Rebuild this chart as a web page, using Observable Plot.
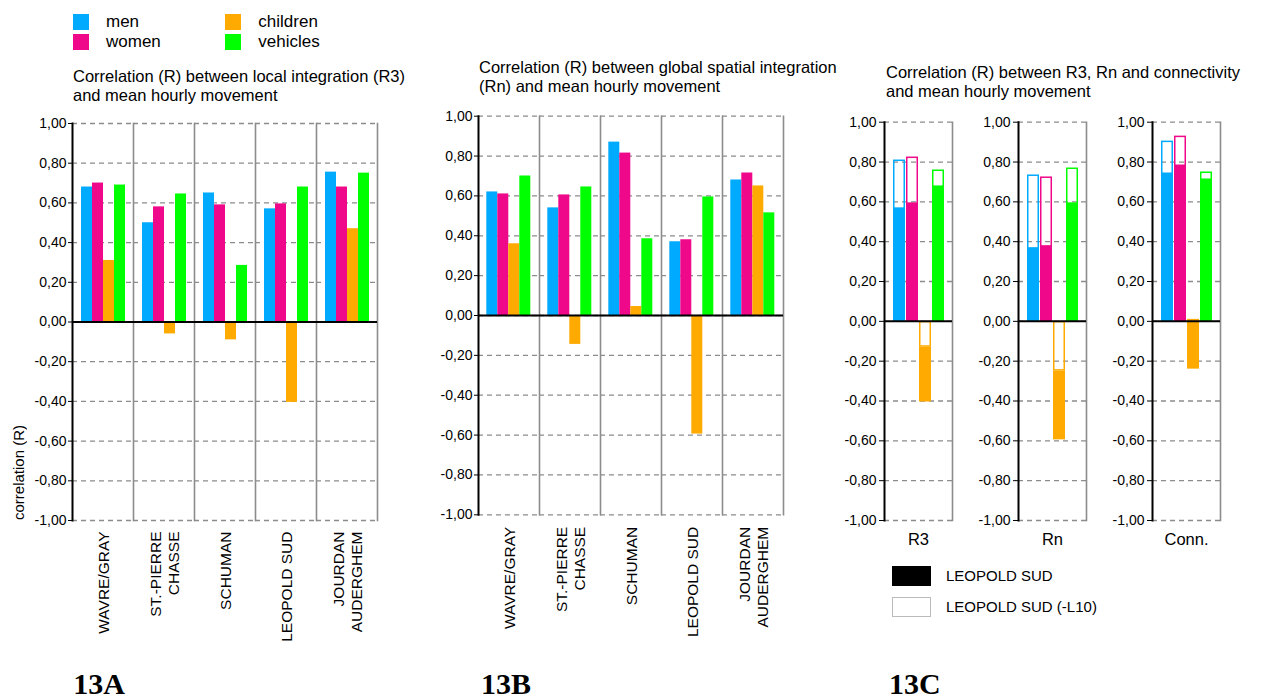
<!DOCTYPE html>
<html><head><meta charset="utf-8">
<script src="https://cdn.jsdelivr.net/npm/d3@7"></script>
<script src="https://cdn.jsdelivr.net/npm/@observablehq/plot@0.6"></script>
<style>
body{margin:0;background:#fff;font-family:"Liberation Sans",Arial,sans-serif;color:#000;}
#root{position:relative;width:1266px;height:699px;overflow:hidden;background:#fff;}
.abs{position:absolute;}
.title{font-size:16.5px;line-height:19px;white-space:nowrap;}
.leg{font-size:17px;line-height:20px;white-space:nowrap;}
.sw{width:16px;height:16px;}
.fig{font-family:"Liberation Serif","Times New Roman",serif;font-weight:bold;font-size:30px;line-height:30px;}
.cleg{font-size:15px;line-height:18px;white-space:nowrap;}
svg{background:transparent !important;}
svg [aria-label="y-axis tick label"], svg [aria-label="y-axis tick label"] text{font-size:14px;}
svg.grp [aria-label="fx-axis tick label"], svg.grp [aria-label="fx-axis tick label"] text{font-size:15.5px;}
svg.cpanel [aria-label="fx-axis tick label"], svg.cpanel [aria-label="fx-axis tick label"] text{font-size:16.5px;}
</style></head><body><div id="root"></div>
<script>
// ---- data ----
const series = ["men", "women", "children", "vehicles"];
const colors = ["#00AAFF", "#F0088A", "#FFAA00", "#00FF00"];
const locations = ["WAVRE/GRAY", "ST.-PIERRE\nCHASSE", "SCHUMAN", "LEOPOLD SUD", "JOURDAN\nAUDERGHEM"];
const yTicks = [-1, -0.8, -0.6, -0.4, -0.2, 0, 0.2, 0.4, 0.6, 0.8, 1];

// 13A: local integration (R3)
const aMen      = [0.68, 0.50, 0.65, 0.57, 0.755];
const aWomen    = [0.70, 0.58, 0.59, 0.595, 0.68];
const aChildren = [0.31, -0.06, -0.09, -0.405, 0.47];
const aVehicles = [0.69, 0.645, 0.285, 0.68, 0.75];

// 13B: global integration (Rn)
const bMen      = [0.62, 0.54, 0.87, 0.37, 0.68];
const bWomen    = [0.61, 0.605, 0.815, 0.38, 0.715];
const bChildren = [0.36, -0.145, 0.045, -0.595, 0.65];
const bVehicles = [0.70, 0.645, 0.385, 0.595, 0.515];

// 13C: LEOPOLD SUD (filled) and LEOPOLD SUD (-L10) (outline)
const measures = ["R3", "Rn", "Conn."];
const cMen         = [0.57, 0.37, 0.745];
const cWomen       = [0.595, 0.38, 0.785];
const cChildren    = [-0.405, -0.595, -0.24];
const cVehicles    = [0.68, 0.595, 0.715];
const cMenL10      = [0.81, 0.735, 0.905];
const cWomenL10    = [0.825, 0.725, 0.93];
const cChildrenL10 = [-0.13, -0.25, 0.01];
const cVehiclesL10 = [0.76, 0.77, 0.75];

const titleA = ["Correlation (R) between local integration (R3)", "and mean hourly movement"];
const titleB = ["Correlation (R) between global spatial integration", "(Rn) and mean hourly movement"];
const titleC = ["Correlation (R) between R3, Rn and connectivity", "and mean hourly movement"];
const cLegend = ["LEOPOLD SUD", "LEOPOLD SUD (-L10)"];
const figLabels = ["13A", "13B", "13C"];
const yLabel = "correlation (R)";

// ---- helpers ----
const root = document.getElementById("root");
const fmt = d => d.toFixed(2).replace(".", ",").replace("\u2212", "-");
function place(node, left, top, cls) {
  if (cls) node.classList.add(cls);
  const w = document.createElement("div");
  w.className = "abs"; w.style.left = left + "px"; w.style.top = top + "px";
  w.appendChild(node); root.appendChild(w); return w;
}
function textDiv(cls, html, left, top) {
  const d = document.createElement("div");
  d.className = "abs " + cls; d.style.left = left + "px"; d.style.top = top + "px";
  d.innerHTML = html; root.appendChild(d); return d;
}
function rowsFrom(arrs) {
  const rows = [];
  locations.forEach((loc, i) => series.forEach((s, j) => rows.push({loc, series: s, value: arrs[j][i]})));
  return rows;
}

function groupedChart(rows, m) {
  return Plot.plot({
    width: m.width, height: 560,
    marginLeft: m.mL, marginRight: m.mR, marginTop: m.mT, marginBottom: m.mB,
    style: {background: "transparent", fontFamily: "Liberation Sans, Arial, sans-serif", color: "black", fontSize: "14px"},
    fx: {domain: locations, padding: 0, label: null},
    x: {domain: series, paddingInner: 0.03, paddingOuter: 0.7, axis: null},
    y: {domain: [-1, 1], label: null},
    color: {domain: series, range: colors},
    marks: [
      Plot.gridY(yTicks, {stroke: "#8c8c8c", strokeOpacity: 1, strokeWidth: 1.3, strokeDasharray: "5,4"}),
      Plot.frame({anchor: "right", stroke: "#8c8c8c", strokeWidth: 1.6}),
      Plot.barY(rows, {fx: "loc", x: "series", y: "value", fill: "series"}),
      Plot.ruleY([0], {stroke: "black", strokeWidth: 2}),
      Plot.frame({anchor: "left", facetAnchor: "left", stroke: "black", strokeWidth: 2}),
      Plot.axisY(yTicks, {tickFormat: fmt, tickSize: 4, tickPadding: 2, fontSize: 14, label: null}),
      Plot.axisFx({anchor: "bottom", tickRotate: -90, tickSize: 0, tickPadding: m.pad, fontSize: 15.5, lineHeight: 1.15, label: null})
    ]
  });
}

// ---- legend ----
const legPos = [[72.7, 14], [72.7, 34], [225, 14], [225, 34]];
series.forEach((s, j) => {
  const sw = document.createElement("div");
  sw.className = "abs sw"; sw.style.background = colors[j];
  sw.style.left = legPos[j][0] + "px"; sw.style.top = legPos[j][1] + "px";
  root.appendChild(sw);
  textDiv("leg", s, legPos[j][0] + 33.3, legPos[j][1] - 1.6);
});

// ---- titles ----
textDiv("title", titleA.join("<br>"), 73, 66.5);
textDiv("title", titleB.join("<br>"), 479, 57.5);
textDiv("title", titleC.join("<br>"), 886, 63);

// ---- 13A ----
place(groupedChart(rowsFrom([aMen, aWomen, aChildren, aVehicles]),
  {width: 420, mL: 72, mR: 43, mT: 23, mB: 140, pad: 11}), 0, 100, "grp");
// y label
const yl = document.createElement("div");
yl.className = "abs"; yl.textContent = yLabel;
Object.assign(yl.style, {left: "9.5px", bottom: (699 - 520) + "px", fontSize: "15px", lineHeight: "17px",
  writingMode: "vertical-rl", transform: "rotate(180deg)", whiteSpace: "nowrap"});
root.appendChild(yl);

// ---- 13B ----
place(groupedChart(rowsFrom([bMen, bWomen, bChildren, bVehicles]),
  {width: 400, mL: 47.7, mR: 47, mT: 15.7, mB: 145.7, pad: 12}), 430, 100, "grp");

// ---- 13C ----
const cFilled = [cMen, cWomen, cChildren, cVehicles];
const cOutline = [cMenL10, cWomenL10, cChildrenL10, cVehiclesL10];
const cAxisX = [884, 1018.3, 1151.7];
measures.forEach((meas, i) => {
  const rows = series.map((s, j) => {
    const f = cFilled[j][i], o = cOutline[j][i];
    const base = (Math.sign(f) === Math.sign(o) && Math.abs(o) < Math.abs(f)) ? o : 0;
    return {m: meas, series: s, filled: f, outline: o, base};
  });
  const chart = Plot.plot({
    width: 130, height: 560,
    marginLeft: 50, marginRight: 11.3, marginTop: 21.7, marginBottom: 140,
    style: {background: "transparent", fontFamily: "Liberation Sans, Arial, sans-serif", color: "black", fontSize: "14px"},
    fx: {domain: [meas], padding: 0, label: null},
    x: {domain: series, paddingInner: 0.1, paddingOuter: 0.6, axis: null},
    y: {domain: [-1, 1], label: null},
    color: {domain: series, range: colors},
    marks: [
      Plot.gridY(yTicks, {stroke: "#8c8c8c", strokeOpacity: 1, strokeWidth: 1.3, strokeDasharray: "5,4"}),
      Plot.frame({anchor: "right", stroke: "#8c8c8c", strokeWidth: 1.6}),
      Plot.barY(rows, {fx: "m", x: "series", y1: "base", y2: "filled", fill: "series"}),
      Plot.barY(rows, {fx: "m", x: "series", y: "outline", fill: "none", stroke: "series", strokeWidth: 1.5, inset: 0.75}),
      Plot.ruleY([0], {stroke: "black", strokeWidth: 2}),
      Plot.frame({anchor: "left", stroke: "black", strokeWidth: 2}),
      Plot.axisY(yTicks, {tickFormat: fmt, tickSize: 5, tickPadding: 3, fontSize: 14, label: null}),
      Plot.axisFx({anchor: "bottom", tickSize: 0, tickPadding: 13, fontSize: 16.5, label: null})
    ]
  });
  place(chart, cAxisX[i] - 50, 100, "cpanel");
});

// 13C legend
const lb1 = document.createElement("div");
lb1.className = "abs"; Object.assign(lb1.style, {left: "891.7px", top: "565.7px", width: "39px", height: "20px", background: "#000"});
root.appendChild(lb1);
const lb2 = document.createElement("div");
lb2.className = "abs"; Object.assign(lb2.style, {left: "891.7px", top: "597px", width: "37px", height: "18px", background: "#fff", border: "1px solid #bbb"});
root.appendChild(lb2);
textDiv("cleg", cLegend[0], 946, 566.8);
textDiv("cleg", cLegend[1], 946, 597.8);

// figure labels
textDiv("fig", figLabels[0], 73.3, 669);
textDiv("fig", figLabels[1], 481, 669);
textDiv("fig", figLabels[2], 889, 669);
</script>
</body></html>
